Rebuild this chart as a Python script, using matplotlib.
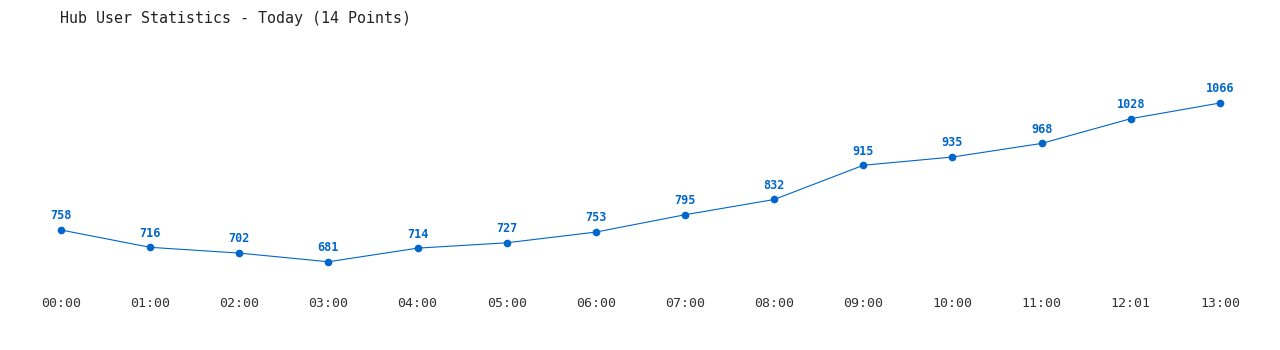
import matplotlib
matplotlib.use('Agg')
import matplotlib.pyplot as plt

# hourly samples
times = ['00:00', '01:00', '02:00', '03:00', '04:00', '05:00', '06:00',
         '07:00', '08:00', '09:00', '10:00', '11:00', '12:01', '13:00']
users = [758, 716, 702, 681, 714, 727, 753, 795, 832, 915, 935, 968, 1028, 1066]

blue = '#0066cc'
mono = ['DejaVu Sans Mono']

fig = plt.figure(figsize=(12.8, 3.5), dpi=100)
ax = fig.add_axes([0, 1 - 290 / 350, 1, 250 / 350])

x = list(range(len(users)))
ax.plot(x, users, color=blue, lw=0.8, marker='o', ms=4.5, mec=blue, mfc=blue)
for i, v in enumerate(users):
    ax.annotate(str(v), (i, v), xytext=(0, 5.5), textcoords='offset points',
                ha='center', va='bottom', color=blue, fontsize=8.5,
                fontweight='bold', family=mono)

ax.set_xlim(-0.684, 13.674)
ax.set_ylim(612.5, 1218.8)
ax.set_xticks(x)
ax.set_xticklabels(times, family=mono, fontsize=9.5, color='#333333')
ax.tick_params(axis='x', length=0, pad=5)
ax.set_yticks([])
for s in ax.spines.values():
    s.set_visible(False)

fig.text(60 / 1280, 1 - 18 / 350, 'Hub User Statistics - Today (14 Points)',
         family=mono, fontsize=10.8, color='#222222', va='center', ha='left')

fig.savefig('out.png', dpi=100)
